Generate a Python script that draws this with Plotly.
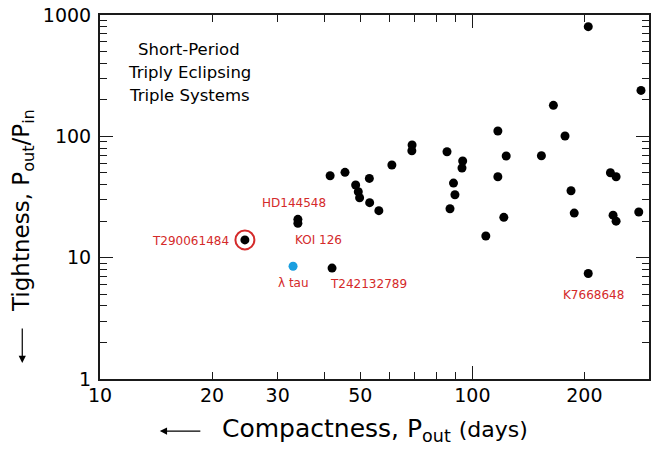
import numpy as np
import plotly.graph_objects as go

# ---- data ----
sys_pout = [204.8, 283.8, 165.1, 117.1, 177.4, 68.9, 68.8, 85.5, 94.2, 93.8, 123.3, 153.3,
            60.8, 41.5, 45.5, 52.9, 117.1, 48.6, 49.4, 49.8, 53.0, 56.1, 89.0, 89.8, 87.1,
            184.1, 187.8, 234.9, 243.3, 238.8, 243.3, 279.9, 121.5, 108.7]
sys_ratio = [801, 239, 180, 110.6, 100.6, 84.8, 76.1, 74.6, 62.6, 54.8, 68.8, 69.2,
             58.0, 47.3, 50.5, 45.0, 46.4, 39.7, 34.9, 31.2, 28.4, 24.4, 41.2, 33.0, 25.3,
             35.6, 23.3, 50.1, 46.4, 22.4, 20.0, 23.8, 21.5, 15.1]

named = ["HD144548", "KOI 126", "T290061484", "T242132789", "K7668648"]
named_pout = [34.0, 34.0, 24.5, 42.0, 204.8]
named_ratio = [20.7, 19.2, 14.0, 8.2, 7.4]

lam_name = "λ tau"
lam_pout = [33.0]
lam_ratio = [8.5]

ring_pout = [24.5]
ring_ratio = [14.0]

x_tickvals = [10, 20, 30, 40, 50, 60, 70, 80, 90, 100, 200, 300]
x_ticktext = ["10", "20", "30", "", "50", "", "", "", "", "100", "200", ""]
y_tickvals = [1, 2, 3, 4, 5, 6, 7, 8, 9, 10, 20, 30, 40, 50, 60, 70, 80, 90,
              100, 200, 300, 400, 500, 600, 700, 800, 900, 1000]
y_ticktext = ["1"] + [""] * 8 + ["10"] + [""] * 8 + ["100"] + [""] * 8 + ["1000"]
x_major = [10, 100]
y_major = [1, 10, 100, 1000]

# ---- style ----
FONT = "DejaVu Sans"
RED = "#d42a2a"
BLUE = "#1a9fe0"
AX = "#1a1a1a"
label_offsets = {
    "HD144548": (-4, 16),
    "KOI 126": (21, -17),
    "T290061484": (-54, -1),
    "T242132789": (36, -16),
    "K7668648": (5, -21),
}
lam_offset = (0, -17)

XR = [1, 2.4745]
YR = [0, 3]

fig = go.Figure()
fig.add_trace(go.Scatter(x=sys_pout, y=sys_ratio, mode="markers",
                         marker=dict(color="black", size=9, line=dict(width=0)),
                         showlegend=False, hoverinfo="x+y"))
fig.add_trace(go.Scatter(x=ring_pout, y=ring_ratio, mode="markers",
                         marker=dict(symbol="circle-open", color=RED, size=19, line=dict(width=2, color=RED)),
                         showlegend=False, hoverinfo="skip"))
fig.add_trace(go.Scatter(x=named_pout, y=named_ratio, mode="markers",
                         marker=dict(color="black", size=9, line=dict(width=0)),
                         showlegend=False, text=named, hoverinfo="text"))
fig.add_trace(go.Scatter(x=lam_pout, y=lam_ratio, mode="markers",
                         marker=dict(color=BLUE, size=9, line=dict(width=0)),
                         showlegend=False, text=[lam_name], hoverinfo="text"))
# empty trace to instantiate the overlay axes (long decade ticks)
fig.add_trace(go.Scatter(x=[], y=[], xaxis="x2", yaxis="y2", showlegend=False))

for n, px, py in zip(named, named_pout, named_ratio):
    dx, dy = label_offsets[n]
    fig.add_annotation(x=np.log10(px), y=np.log10(py), xref="x", yref="y", text=n,
                       showarrow=False, xshift=dx, yshift=dy, xanchor="center", yanchor="middle",
                       font=dict(family=FONT, size=12, color=RED))
fig.add_annotation(x=np.log10(lam_pout[0]), y=np.log10(lam_ratio[0]), xref="x", yref="y",
                   text=lam_name, showarrow=False, xshift=lam_offset[0], yshift=lam_offset[1],
                   xanchor="center", yanchor="middle",
                   font=dict(family=FONT, size=12, color=RED))

# caption text
for i, line in enumerate(["Short-Period", "Triply Eclipsing", "Triple Systems"]):
    fig.add_annotation(x=0.163, y=0.843, xref="paper", yref="paper", text=line,
                       showarrow=False, yshift=23 - 23 * i, xanchor="center", yanchor="middle",
                       font=dict(family=FONT, size=16.5, color="black"))

# axis titles
fig.add_annotation(x=0.5, y=-0.14, xref="paper", yref="paper",
                   text="Compactness, P<sub>out</sub> <span style='font-size:22px'>(days)</span>",
                   showarrow=False, xanchor="center", yanchor="middle",
                   font=dict(family=FONT, size=25, color="black"))
fig.add_annotation(x=-0.14, y=0.462, xref="paper", yref="paper",
                   text="Tightness, P<sub>out</sub>/P<sub>in</sub>", textangle=-90,
                   showarrow=False, xanchor="center", yanchor="middle",
                   font=dict(family=FONT, size=23, color="black"))
# arrows
fig.add_annotation(x=0.109, y=-0.143, xref="paper", yref="paper", text="",
                   showarrow=True, ax=42, ay=0, arrowhead=2, arrowsize=1.2,
                   arrowwidth=1.2, arrowcolor="black", font=dict(size=1))
fig.add_annotation(x=-0.1416, y=0.044, xref="paper", yref="paper", text="",
                   showarrow=True, ax=0, ay=-36, arrowhead=2, arrowsize=1.2,
                   arrowwidth=1.2, arrowcolor="black", font=dict(size=1))

common = dict(type="log", showgrid=False, zeroline=False, ticks="inside",
              tickcolor=AX, tickwidth=1.3)
fig.update_layout(
    width=651, height=450,
    margin=dict(l=100, r=0, t=15, b=71),
    paper_bgcolor="white", plot_bgcolor="white",
    xaxis=dict(**common, range=XR, tickvals=x_tickvals, ticktext=x_ticktext, ticklen=7,
               showline=True, linecolor=AX, linewidth=2, mirror="allticks",
               ticklabelstandoff=-2,
               tickfont=dict(family=FONT, size=19, color="black")),
    yaxis=dict(**common, range=YR, tickvals=y_tickvals, ticktext=y_ticktext, ticklen=7,
               showline=True, linecolor=AX, linewidth=2, mirror="allticks",
               ticklabelstandoff=3,
               tickfont=dict(family=FONT, size=19, color="black")),
    xaxis2=dict(**common, range=XR, tickvals=x_major, ticklen=13, overlaying="x",
                anchor="y2", side="bottom", showticklabels=False, showline=False,
                mirror="allticks"),
    yaxis2=dict(**common, range=YR, tickvals=y_major, ticklen=13, overlaying="y",
                anchor="x2", side="left", showticklabels=False, showline=False,
                mirror="allticks"),
)
# remove the browser's default 8px body margin so the figure fills the window exactly
fig.write_html("out.html", config={"displayModeBar": False},
               post_script="document.body.style.margin='0';document.body.style.overflow='hidden';")
